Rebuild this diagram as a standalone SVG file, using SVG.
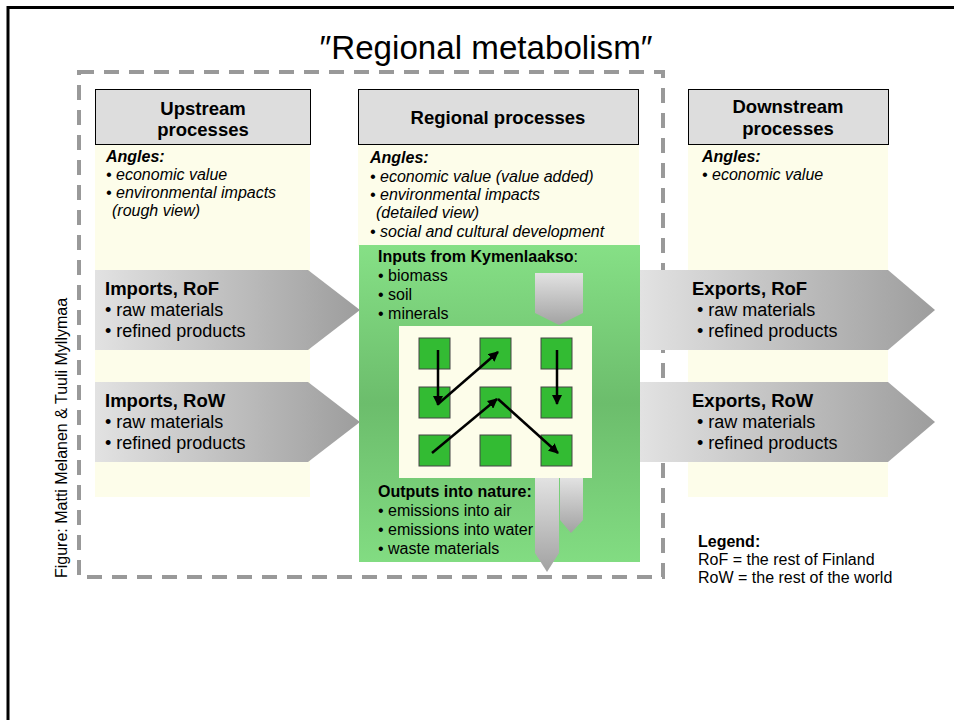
<svg xmlns="http://www.w3.org/2000/svg" width="954" height="720" viewBox="0 0 954 720">
<defs>
<style>
text{font-family:"Liberation Sans",Arial,sans-serif;fill:#000}
.hdr{fill:#dddddd;stroke:#000;stroke-width:1}
.hdrt{font-size:18.5px;font-weight:bold;text-anchor:middle}
.col{fill:#fdfdea}
.ang{font-size:16px;font-style:italic}
.angb{font-weight:bold}
.flow{font-size:18px}
.flowb{font-weight:bold;font-size:18.5px}
.io{font-size:16px}
.sq{fill:#33bb33;stroke:#444;stroke-width:1}
.con{stroke:#000;stroke-width:2.5;fill:none;marker-end:url(#ah)}
</style>
<linearGradient id="gh" x1="0" y1="0" x2="1" y2="0">
<stop offset="0" stop-color="#e2e2e2"/><stop offset="1" stop-color="#9d9d9d"/>
</linearGradient>
<linearGradient id="gv" x1="0" y1="0" x2="0" y2="1">
<stop offset="0" stop-color="#e2e2e2"/><stop offset="1" stop-color="#a2a2a2"/>
</linearGradient>
<linearGradient id="gg" x1="0" y1="0" x2="0" y2="1">
<stop offset="0" stop-color="#86e086"/><stop offset="0.5" stop-color="#6cbd6c"/><stop offset="1" stop-color="#82dc82"/>
</linearGradient>
<marker id="ah" viewBox="0 0 10 10" refX="9" refY="5" markerWidth="4" markerHeight="4" orient="auto" markerUnits="strokeWidth">
<path d="M0,0 L10,5 L0,10 z" fill="#000"/>
</marker>
</defs>
<rect width="954" height="720" fill="#fff"/>
<path d="M8,722 V7.5 H956" fill="none" stroke="#000" stroke-width="3"/>

<text x="486" y="59" font-size="34" text-anchor="middle" textLength="333" lengthAdjust="spacingAndGlyphs">″Regional metabolism″</text>
<rect x="79" y="72" width="584" height="505" fill="none" stroke="#999" stroke-width="4" stroke-dasharray="15 10"/>

<text transform="translate(67,578) rotate(-90)" font-size="16">Figure: Matti Melanen &amp; Tuuli Myllymaa</text>

<g id="upstream">
<rect class="col" x="95" y="144" width="215" height="353"/>
<rect class="hdr" x="95.5" y="89.5" width="215" height="55"/>
<text class="hdrt" x="203" y="115">Upstream</text>
<text class="hdrt" x="203" y="136">processes</text>
<text class="ang" x="106" y="162"><tspan class="angb">Angles:</tspan><tspan x="106" dy="18">• economic value</tspan><tspan x="106" dy="18">• environmental impacts</tspan><tspan x="112" dy="18">(rough view)</tspan></text>
</g>

<g id="regional">
<rect class="col" x="358" y="144" width="281" height="102"/>
<rect class="hdr" x="358.5" y="89.5" width="280" height="55"/>
<text class="hdrt" x="498" y="124">Regional processes</text>
<text class="ang" x="370" y="163"><tspan class="angb">Angles:</tspan><tspan x="370" dy="18.5">• economic value (value added)</tspan><tspan x="370" dy="18.5">• environmental impacts</tspan><tspan x="376" dy="18">(detailed view)</tspan><tspan x="370" dy="19">• social and cultural development</tspan></text>
<rect x="359" y="245" width="281" height="317" fill="url(#gg)"/>
<text class="io" x="378" y="262"><tspan font-weight="bold">Inputs from Kymenlaakso</tspan>:<tspan x="378" dy="19">• biomass</tspan><tspan x="378" dy="19">• soil</tspan><tspan x="378" dy="19">• minerals</tspan></text>
<polygon points="535,273 583,273 583,313 559,325 535,313" fill="url(#gv)"/>
<rect x="399" y="326" width="193" height="152" fill="#fdfdea"/>
<text class="io" x="378" y="497"><tspan font-weight="bold">Outputs into nature:</tspan><tspan x="378" dy="19">• emissions into air</tspan><tspan x="378" dy="18.5">• emissions into water</tspan><tspan x="378" dy="19">• waste materials</tspan></text>
<polygon points="535,478 559,478 559,553 547,572 535,553" fill="url(#gv)"/>
<polygon points="560,478 583,478 583,520 571,533 560,520" fill="url(#gv)"/>
</g>

<g id="process-grid">
<rect class="sq" x="419" y="338" width="31" height="31"/>
<rect class="sq" x="480" y="338" width="31" height="31"/>
<rect class="sq" x="541" y="338" width="31" height="31"/>
<rect class="sq" x="419" y="387" width="31" height="31"/>
<rect class="sq" x="480" y="387" width="31" height="31"/>
<rect class="sq" x="541" y="387" width="31" height="31"/>
<rect class="sq" x="419" y="435" width="31" height="31"/>
<rect class="sq" x="480" y="435" width="31" height="31"/>
<rect class="sq" x="541" y="435" width="31" height="31"/>
</g>

<g id="downstream">
<rect class="col" x="688" y="144" width="200" height="353"/>
<rect class="hdr" x="688.5" y="89.5" width="200" height="55"/>
<text class="hdrt" x="788" y="113">Downstream</text>
<text class="hdrt" x="788" y="135">processes</text>
<text class="ang" x="702" y="162"><tspan class="angb">Angles:</tspan><tspan x="702" dy="18">• economic value</tspan></text>
</g>

<g id="imports-rof">
<polygon points="95,270 308,270 360,310 308,350 95,350" fill="url(#gh)"/>
<text class="flow" x="105" y="295"><tspan class="flowb">Imports, RoF</tspan><tspan x="105" dy="21">• raw materials</tspan><tspan x="105" dy="21">• refined products</tspan></text>
</g>
<g id="imports-row">
<polygon points="95,382 308,382 360,422 308,462 95,462" fill="url(#gh)"/>
<text class="flow" x="105" y="407"><tspan class="flowb">Imports, RoW</tspan><tspan x="105" dy="21">• raw materials</tspan><tspan x="105" dy="21">• refined products</tspan></text>
</g>
<g id="exports-rof">
<polygon points="640,270 888,270 935,310 888,350 640,350" fill="url(#gh)"/>
<text class="flow" x="692" y="295"><tspan class="flowb">Exports, RoF</tspan><tspan x="697" dy="21">• raw materials</tspan><tspan x="697" dy="21">• refined products</tspan></text>
</g>
<g id="exports-row">
<polygon points="640,382 888,382 935,422 888,462 640,462" fill="url(#gh)"/>
<text class="flow" x="692" y="407"><tspan class="flowb">Exports, RoW</tspan><tspan x="697" dy="21">• raw materials</tspan><tspan x="697" dy="21">• refined products</tspan></text>
</g>

<g id="legend">
<text x="698" y="547" font-size="16"><tspan font-weight="bold">Legend:</tspan><tspan x="698" dy="18">RoF = the rest of Finland</tspan><tspan x="698" dy="18">RoW = the rest of the world</tspan></text>
</g>

<g id="connectors">
<line class="con" x1="438" y1="350" x2="438" y2="405"/>
<line class="con" x1="438" y1="404" x2="498" y2="352"/>
<line class="con" x1="557" y1="350" x2="557" y2="404"/>
<line class="con" x1="432" y1="453" x2="497" y2="399"/>
<line class="con" x1="498" y1="399" x2="558" y2="453"/>
</g>
</svg>
